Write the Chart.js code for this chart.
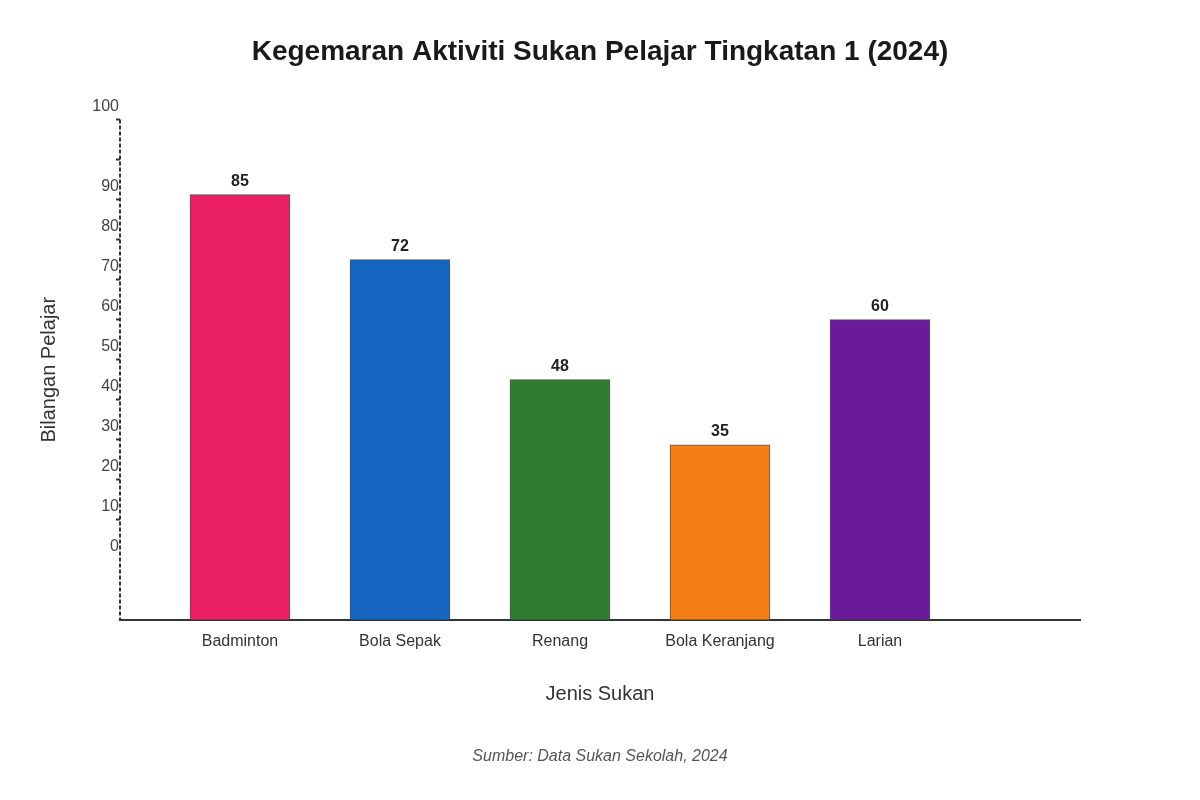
<!DOCTYPE html>
<html>
<head>
<meta charset="utf-8">
<title>Kegemaran Aktiviti Sukan</title>
<script src="https://cdn.jsdelivr.net/npm/chart.js@4"></script>
<style>
  body { margin: 0; background: #fff; }
</style>
</head>
<body>
<canvas id="sportChart" width="1200" height="800"></canvas>
<script>
// Data
var categories = ['Badminton', 'Bola Sepak', 'Renang', 'Bola Keranjang', 'Larian']
var students = [85, 72, 48, 35, 60]
var barColors = ['#E91E63', '#1565C0', '#2E7D32', '#F57F17', '#6A1B9A']

// y ticks as drawn on the left axis (marks every 8 units, labels shifted up)
var yTickValues = [100, 92, 84, 76, 68, 60, 52, 44, 36, 28, 20, 12]
var yTickLabels = ['100', '', '90', '80', '70', '60', '50', '40', '30', '20', '10', '0']

Chart.defaults.font.family = '"Liberation Sans", Arial, sans-serif'
Chart.defaults.color = '#333'

// Draw the numbers above each bar
var valueLabels = {
  id: 'valueLabels',
  afterDatasetsDraw: function (chart) {
    var ctx = chart.ctx
    var meta = chart.getDatasetMeta(0)
    ctx.save()
    ctx.font = 'bold 16px "Liberation Sans", Arial, sans-serif'
    ctx.fillStyle = '#222'
    ctx.textAlign = 'center'
    ctx.textBaseline = 'bottom'
    meta.data.forEach(function (bar, i) {
      ctx.fillText(String(students[i]), bar.x, bar.y - 5)
    })
    ctx.restore()
  }
}

// Dashed left axis line (border.dash only affects grid lines)
var dashedYAxis = {
  id: 'dashedYAxis',
  afterDraw: function (chart) {
    var ctx = chart.ctx
    var area = chart.chartArea
    ctx.save()
    ctx.strokeStyle = '#333'
    ctx.lineWidth = 2
    ctx.setLineDash([4, 2])
    ctx.beginPath()
    ctx.moveTo(area.left, area.top)
    ctx.lineTo(area.left, area.bottom)
    ctx.stroke()
    ctx.restore()
  }
}

var points = students.map(function (v, i) { return { x: i, y: v } })

var ctx = document.getElementById('sportChart').getContext('2d')
var chart = new Chart(ctx, {
  type: 'bar',
  data: {
    datasets: [{
      data: points,
      backgroundColor: barColors,
      borderColor: '#555',
      borderWidth: 1,
      barThickness: 100
    }]
  },
  options: {
    responsive: false,
    animation: false,
    layout: { padding: { left: 20, right: 20, top: 0, bottom: 0 } },
    plugins: {
      legend: { display: false },
      tooltip: { enabled: false },
      title: {
        display: true,
        text: 'Kegemaran Aktiviti Sukan Pelajar Tingkatan 1 (2024)',
        color: '#1a1a1a',
        font: { size: 28, weight: 'bold' },
        padding: { top: 35, bottom: 51 }
      },
      subtitle: {
        display: true,
        position: 'bottom',
        text: 'Sumber: Data Sukan Sekolah, 2024',
        color: '#555',
        font: { size: 16, style: 'italic' },
        padding: { top: 27, bottom: 34 }
      }
    },
    scales: {
      x: {
        type: 'linear',
        min: -0.75,
        max: 5.25,
        offset: false,
        grid: { display: false, drawTicks: false },
        border: { display: true, color: '#333', width: 2 },
        afterBuildTicks: function (scale) {
          scale.ticks = categories.map(function (c, i) { return { value: i } })
        },
        ticks: {
          padding: 12,
          color: '#333',
          font: { size: 16 },
          callback: function (value) { return categories[value] }
        },
        title: {
          display: true,
          text: 'Jenis Sukan',
          color: '#333',
          font: { size: 20 },
          padding: { top: 0, bottom: 13 }
        },
        afterFit: function (scale) { scale.height = 100 }
      },
      y: {
        min: 0,
        max: 100,
        grid: {
          drawOnChartArea: false,
          drawTicks: true,
          tickLength: 4,
          tickWidth: 2,
          tickColor: function (c) { return c.tick && c.tick.value === 12 ? 'rgba(0,0,0,0)' : '#333' }
        },
        border: { display: false },
        afterBuildTicks: function (scale) {
          scale.ticks = yTickValues.map(function (v) { return { value: v } })
        },
        ticks: {
          padding: -3,
          labelOffset: -13,
          color: '#444',
          font: { size: 16 },
          callback: function (value) {
            var idx = yTickValues.indexOf(value)
            return idx >= 0 ? yTickLabels[idx] : ''
          }
        },
        title: {
          display: true,
          text: 'Bilangan Pelajar',
          color: '#333',
          font: { size: 20 },
          padding: { top: 17, bottom: 0 }
        },
        afterFit: function (scale) { scale.width = 100 }
      },
      // empty right axis so the plot area ends at x=1080
      yRight: {
        position: 'right',
        display: true,
        grid: { display: false },
        border: { display: false },
        ticks: { display: false },
        afterFit: function (scale) { scale.width = 100 }
      }
    }
  },
  plugins: [valueLabels, dashedYAxis]
})
</script>
</body>
</html>
